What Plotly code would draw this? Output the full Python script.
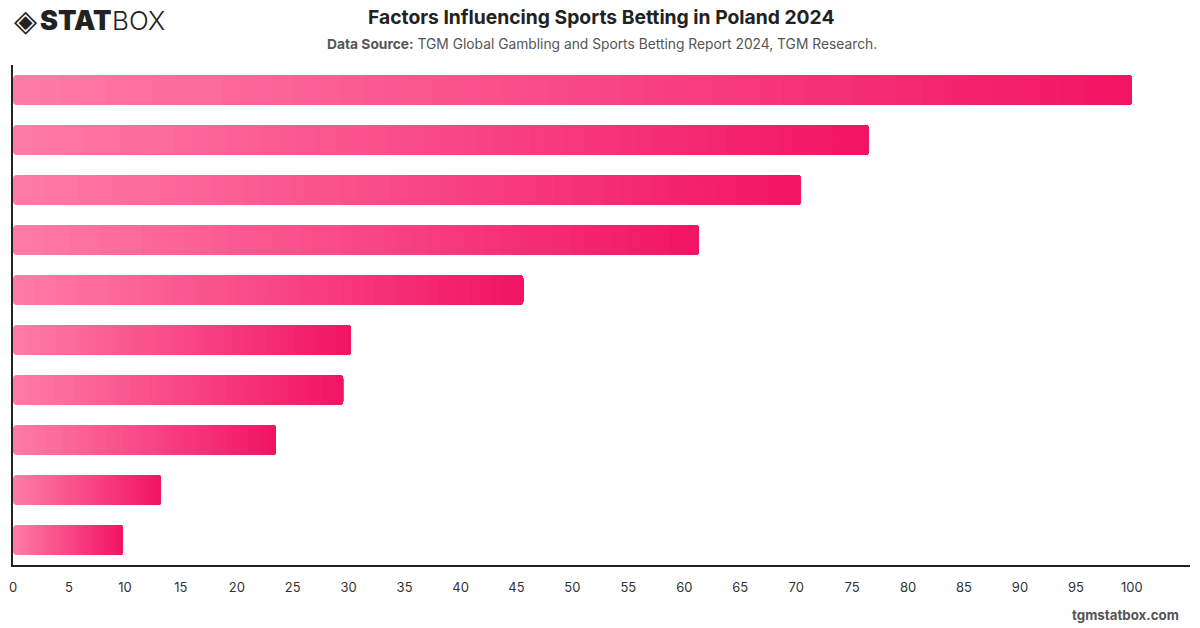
import plotly.graph_objects as go

# ---- data ----
categories = ["Factor 1", "Factor 2", "Factor 3", "Factor 4", "Factor 5",
              "Factor 6", "Factor 7", "Factor 8", "Factor 9", "Factor 10"]
values = [100, 76.5, 70.4, 61.3, 45.6, 30.2, 29.5, 23.5, 13.2, 9.8]
x_ticks = list(range(0, 101, 5))

title_text = "Factors Influencing Sports Betting in Poland 2024"
source_text = "<b>Data Source:</b> TGM Global Gambling and Sports Betting Report 2024, TGM Research."

# ---- gradient colours ----
c_start = (255, 124, 168)
c_end = (241, 20, 98)
N = 48

def lerp(a, b, t):
    return tuple(round(a[i] + (b[i] - a[i]) * t) for i in range(3))

fig = go.Figure()
for k in range(N):
    t = k / N
    col = lerp(c_start, c_end, (k + 0.5) / N)
    fig.add_trace(go.Bar(
        y=categories,
        x=[v * (1 - t) for v in values],
        base=[v * t for v in values],
        orientation="h",
        marker=dict(color="rgb(%d,%d,%d)" % col, line=dict(width=0)),
        showlegend=False,
        hoverinfo="skip",
    ))

font_family = "Inter, 'Open Sans', Roboto, sans-serif"

M_L, M_R, M_T, M_B = 9, 10, 65, 63
H_PLOT = 628 - M_T - M_B
W_PLOT = 1200 - M_L - M_R

def py(p):
    return (628 - M_B - p) / H_PLOT

def px(p):
    return (p - M_L) / W_PLOT

def ann(text, x, y, size, color, xanchor="center", family=font_family, weight=None):
    f = dict(size=size, color=color, family=family)
    if weight is not None:
        f["weight"] = weight
    return dict(text=text, x=px(x), y=py(y), xref="paper", yref="paper",
                xanchor=xanchor, yanchor="middle", showarrow=False, font=f)

fig.update_layout(
    width=1200, height=628,
    margin=dict(l=M_L, r=M_R, t=M_T, b=M_B),
    paper_bgcolor="white", plot_bgcolor="white",
    barmode="overlay",
    bargap=0.4,
    barcornerradius=4,
    font=dict(family=font_family, color="#333"),
    xaxis=dict(
        range=[0, 105.2], tickvals=x_ticks, showgrid=False, zeroline=False,
        showline=True, linecolor="#222", linewidth=1.5,
        ticks="", tickfont=dict(size=13, color="#333"), ticklabelstandoff=10,
    ),
    yaxis=dict(
        categoryorder="array", categoryarray=categories[::-1],
        showticklabels=False, showgrid=False, zeroline=False,
        showline=True, linecolor="#222", linewidth=1.5, ticks="",
    ),
    annotations=[
        ann("<b>" + title_text + "</b>", 600, 17, 19.3, "#222"),
        ann(source_text, 600, 44, 13.8, "#555"),
        ann("<b>tgmstatbox.com</b>", 1181, 615, 13.3, "#555", xanchor="right"),
        ann("◈", 8, 21, 30, "#222", xanchor="left", family="DejaVu Sans"),
        ann("STAT", 34, 21, 27, "#222", xanchor="left", weight=900),
        ann("BOX", 106, 21, 26, "#222", xanchor="left", weight=300),
    ],
)

fig.write_html("out.html")
